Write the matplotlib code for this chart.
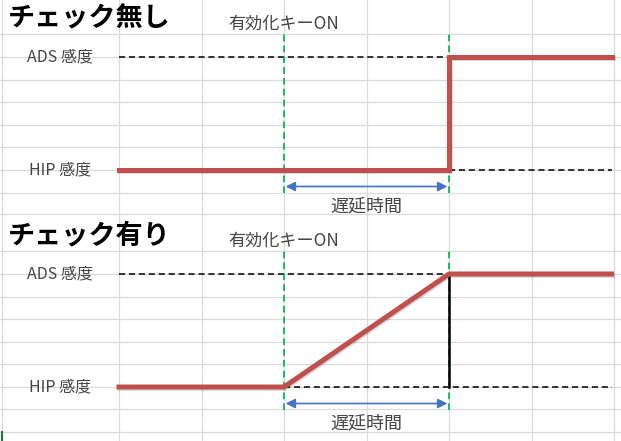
import numpy as np
import matplotlib.pyplot as plt
import matplotlib.patheffects as pe

plt.rcParams['font.family'] = ['Noto Sans CJK JP', 'DejaVu Sans']

# sensitivity levels (in row units) and time points (in column units)
levels = {'ADS 感度': 5, 'HIP 感度': 0}
t_key_on = 2
t_delay_end = 4
t_end = 5.97

# sensitivity over time
no_check_t = [0, t_delay_end, t_delay_end, t_end]
no_check_s = [0, 0, 5, 5]
check_t = [0, t_key_on, t_delay_end, t_end]
check_s = [0, 0, 5, 5]

titles = ['チェック無し', 'チェック有り']
key_label = '有効化キーON'
delay_label = '遅延時間'

# excel sheet grid (pixels)
col_edges = [2, 119, 202, 284, 367, 449, 532, 614]
row_edges = [34, 57, 80, 102, 125, 147, 170, 193, 214,
             251, 274, 297, 319, 342, 364, 387, 409, 432]

W, H = 621, 441
X0, COL, ROW = 119, 82.5, 22.6
RED = '#C0504D'
GRAY = '#444444'

fig = plt.figure(figsize=(W / 100, H / 100), dpi=100)
bg = fig.add_axes([0, 0, 1, 1])
bg.set_xlim(0, W)
bg.set_ylim(H, 0)
bg.axis('off')
for x in col_edges:
    bg.axvline(x, color='#dadada', lw=0.9)
for y in row_edges:
    bg.axhline(y, color='#dadada', lw=0.9)
bg.plot([2, 2], [432, 441], color='#217346', lw=1.5)


def panel_axes(hip_px):
    ax = fig.add_axes([0, 0, 1, 1])
    ax.set_xlim((0 - X0) / COL, (W - X0) / COL)
    ax.set_ylim((hip_px - H) / ROW, hip_px / ROW)
    ax.axis('off')
    ax.patch.set_alpha(0)
    return ax


def draw_panel(ax, title, ts, ss, dashed, solid_vert):
    ax.text(-1.345, 6.72, title, fontsize=19.5, fontweight='bold',
            va='center', ha='left', color='black')
    ax.text(1.33, 6.48, key_label, fontsize=12.3, va='center', ha='left',
            color=GRAY)
    for name, lv in levels.items():
        ax.text(-0.72, lv, name, fontsize=11.5, va='center', ha='center',
                color=GRAY)
    for (x1, x2, lv) in dashed:
        ax.plot([x1, x2], [lv, lv], color='black', lw=1.1,
                linestyle=(0, (4, 2.5)))
    for t in (t_key_on, t_delay_end):
        ax.plot([t, t], [-1, 6], color='#00B050', lw=1.2,
                linestyle=(0, (4, 2.5)))
    if solid_vert:
        ax.plot([t_delay_end, t_delay_end], [0, 5], color='black', lw=1.8)
    ax.plot(ts, ss, color=RED, lw=3.6, solid_joinstyle='miter',
            path_effects=[pe.SimpleLineShadow(offset=(0.8, -1), alpha=0.15),
                          pe.Normal()])
    ax.annotate('', xy=(t_delay_end - 0.02, -0.73), xytext=(t_key_on + 0.02, -0.73),
                arrowprops=dict(arrowstyle='<|-|>', color='#4472C4', lw=1.2,
                                mutation_scale=14, shrinkA=0, shrinkB=0))
    ax.text((t_key_on + t_delay_end) / 2, -1.6, delay_label, fontsize=13,
            va='center', ha='center', color=GRAY)


ax1 = panel_axes(170)
draw_panel(ax1, titles[0], no_check_t, no_check_s,
           [(0, t_delay_end, 5), (t_delay_end, t_end, 0)], False)

ax2 = panel_axes(387)
draw_panel(ax2, titles[1], check_t, check_s,
           [(0, t_delay_end, 5), (t_key_on, t_end, 0)], True)

fig.savefig('out.png', dpi=100)
